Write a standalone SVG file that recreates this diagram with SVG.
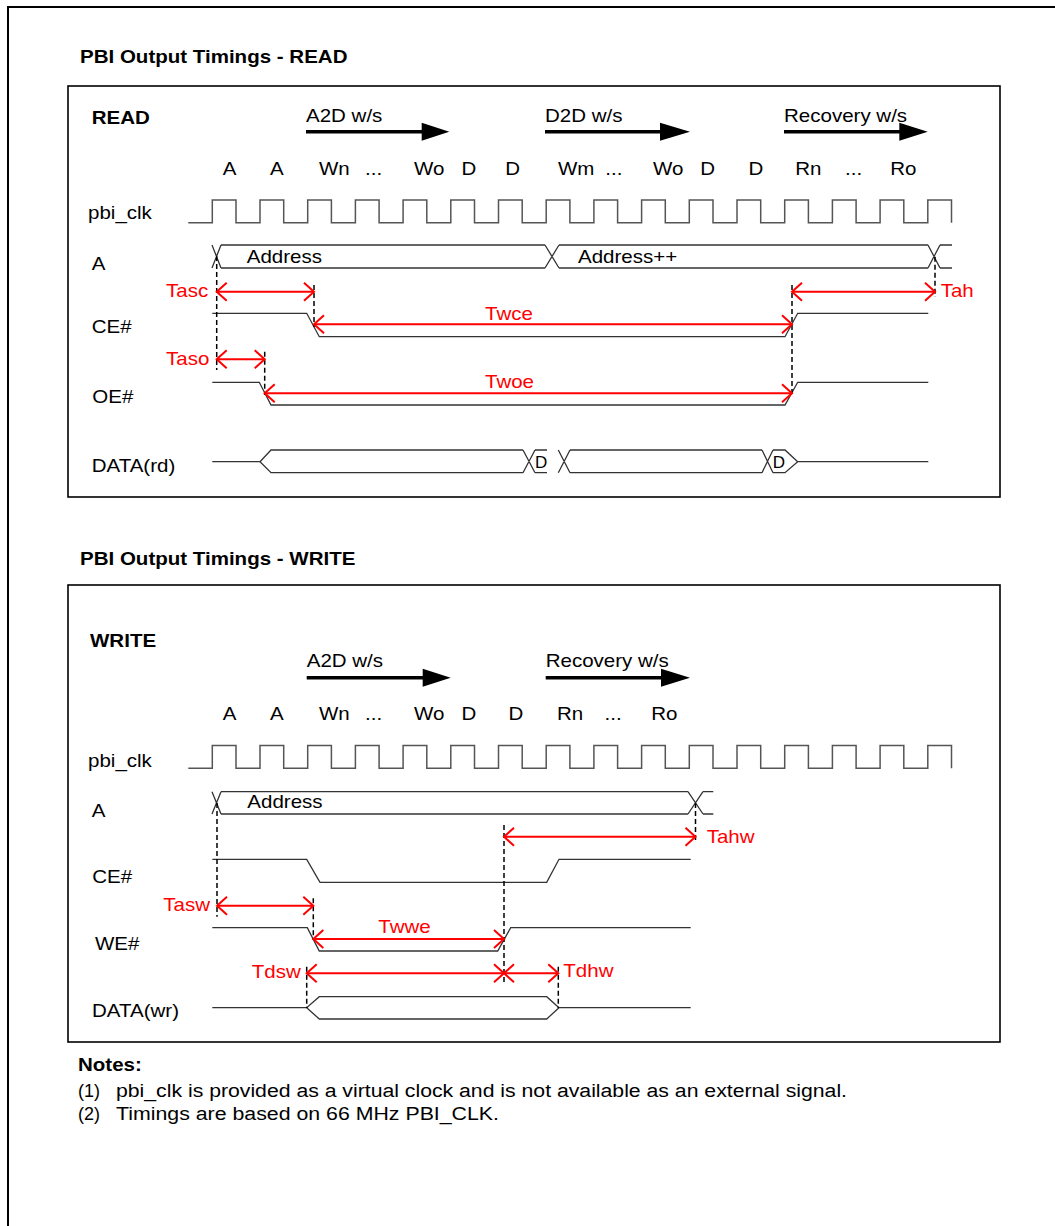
<svg xmlns="http://www.w3.org/2000/svg" width="1055" height="1226" viewBox="0 0 1055 1226">
<style>
text{font-family:"Liberation Sans",Arial,Helvetica,sans-serif;font-size:18px;fill:#000}
.b{font-weight:bold}
.r{fill:#f00}
.sig{fill:none;stroke:#333;stroke-width:1.3}
.clk{fill:none;stroke:#555;stroke-width:1.5}
.dash{fill:none;stroke:#000;stroke-width:1.5;stroke-dasharray:5 3}
.dim{fill:none;stroke:#f00;stroke-width:2;marker-start:url(#ch);marker-end:url(#ch)}
.big{stroke:#000;stroke-width:3.5}
.box{fill:none;stroke:#000;stroke-width:1.6}
</style>
<defs>
<marker id="ch" viewBox="0 0 10 18" refX="10" refY="9" markerWidth="10" markerHeight="18" markerUnits="userSpaceOnUse" orient="auto-start-reverse" overflow="visible">
<path d="M0,0 L10,9 L0,18" fill="none" stroke="#f00" stroke-width="2"/>
</marker>
<path id="clock" class="clk" d="M188.3 222.7 H212.3 V200 H236 V222.7 H260 V200 H283.7 V222.7 H307.7 V200 H331.4 V222.7 H355.4 V200 H379.1 V222.7 H403.1 V200 H426.8 V222.7 H450.8 V200 H474.5 V222.7 H498.5 V200 H522.2 V222.7 H546.2 V200 H569.9 V222.7 H593.9 V200 H617.6 V222.7 H641.6 V200 H665.3 V222.7 H689.3 V200 H713 V222.7 H737 V200 H760.7 V222.7 H784.7 V200 H808.4 V222.7 H832.4 V200 H856.1 V222.7 H880.1 V200 H903.8 V222.7 H927.8 V200 H951.5 V222.7"/>
</defs>
<rect width="1055" height="1226" fill="#fff"/>
<rect x="8" y="7" width="1060" height="1240" fill="none" stroke="#000" stroke-width="2"/>

<!-- READ section -->
<g id="read-section">
<text class="b" transform="matrix(1.14 0 0 1 80 63.3)">PBI Output Timings - READ</text>
<rect id="read-box" class="box" x="68" y="86" width="932" height="411"/>
<text class="b" transform="matrix(1.14 0 0 1 91.7 124)">READ</text>
<g id="read-phases">
<text transform="matrix(1.14 0 0 1 306 122)">A2D w/s</text>
<line class="big" x1="306" y1="131.7" x2="423" y2="131.7"/>
<polygon points="421.7,122.7 449.3,131.7 421.7,140.7"/>
<text transform="matrix(1.14 0 0 1 545 122)">D2D w/s</text>
<line class="big" x1="545" y1="131.7" x2="661" y2="131.7"/>
<polygon points="660,122.7 690,131.7 660,140.7"/>
<text transform="matrix(1.14 0 0 1 784 122)">Recovery w/s</text>
<line class="big" x1="784" y1="131.7" x2="900" y2="131.7"/>
<polygon points="899.3,122.7 927.7,131.7 899.3,140.7"/>
</g>
<g id="read-cycles">
<text transform="matrix(1.14 0 0 1 222.7 175)">A</text>
<text transform="matrix(1.14 0 0 1 270 175)">A</text>
<text transform="matrix(1.14 0 0 1 319 175)">Wn</text>
<text transform="matrix(1.14 0 0 1 365 175)">...</text>
<text transform="matrix(1.14 0 0 1 414 175)">Wo</text>
<text transform="matrix(1.14 0 0 1 461.5 175)">D</text>
<text transform="matrix(1.14 0 0 1 505.2 175)">D</text>
<text transform="matrix(1.14 0 0 1 558 175)">Wm</text>
<text transform="matrix(1.14 0 0 1 605.3 175)">...</text>
<text transform="matrix(1.14 0 0 1 653 175)">Wo</text>
<text transform="matrix(1.14 0 0 1 700.2 175)">D</text>
<text transform="matrix(1.14 0 0 1 748.5 175)">D</text>
<text transform="matrix(1.14 0 0 1 795.2 175)">Rn</text>
<text transform="matrix(1.14 0 0 1 845 175)">...</text>
<text transform="matrix(1.14 0 0 1 890.2 175)">Ro</text>
</g>
<g id="read-pbi_clk">
<text transform="matrix(1.14 0 0 1 88 219.3)">pbi_clk</text>
<use href="#clock"/>
</g>
<g id="read-A">
<text transform="matrix(1.14 0 0 1 91.7 270)">A</text>
<path class="sig" d="M212 245 L221 268 M212 268 L221 245 M221 245 H545 M221 268 H545 M545 245 L559 268 M545 268 L559 245 M559 245 H928 M559 268 H928 M928 245 L940 268 M928 268 L940 245 M940 245 H952 M940 268 H952"/>
<text transform="matrix(1.14 0 0 1 246.7 263)">Address</text>
<text transform="matrix(1.14 0 0 1 578 263)">Address++</text>
</g>
<g id="read-CE">
<text transform="matrix(1.14 0 0 1 91.7 333.3)">CE#</text>
<path class="sig" d="M212.3 313.3 H306.7 L319.3 336.7 H785 L797.7 313.3 H928.3"/>
</g>
<g id="read-OE">
<text transform="matrix(1.14 0 0 1 92.3 402.7)">OE#</text>
<path class="sig" d="M212.3 382.3 H259.3 L271 405 H785 L797.7 382.3 H928.3"/>
</g>
<g id="read-DATA">
<text transform="matrix(1.14 0 0 1 91.7 471.7)">DATA(rd)</text>
<path class="sig" d="M212.3 461.7 H260 M523 450 H271 L260 461.7 L271 472.7 H523 M523 450 L535 472.7 M523 472.7 L535 450 M535 450 H547 M535 472.7 H547 M558.3 450 L570 472.7 M558.3 472.7 L570 450 M570 450 H762 M570 472.7 H762 M762 450 L773 472.7 M762 472.7 L773 450 M773 450 H785 L797.7 461.7 L785 472.7 H773 M797.7 461.7 H928.3"/>
<text style="font-size:17px" x="535" y="467.5">D</text>
<text style="font-size:17px" x="772.7" y="467.5">D</text>
</g>
</g>

<!-- WRITE section -->
<g id="write-section">
<text class="b" transform="matrix(1.14 0 0 1 80 565)">PBI Output Timings - WRITE</text>
<rect id="write-box" class="box" x="68" y="585" width="932" height="457"/>
<text class="b" transform="matrix(1.14 0 0 1 90 646.7)">WRITE</text>
<g id="write-phases">
<text transform="matrix(1.14 0 0 1 306.7 666.7)">A2D w/s</text>
<line class="big" x1="306.7" y1="677.7" x2="424" y2="677.7"/>
<polygon points="422.7,668.7 450.7,677.7 422.7,686.7"/>
<text transform="matrix(1.14 0 0 1 545.7 666.7)">Recovery w/s</text>
<line class="big" x1="545.7" y1="677.7" x2="662" y2="677.7"/>
<polygon points="661,668.7 690,677.7 661,686.7"/>
</g>
<g id="write-cycles">
<text transform="matrix(1.14 0 0 1 222.7 720)">A</text>
<text transform="matrix(1.14 0 0 1 270 720)">A</text>
<text transform="matrix(1.14 0 0 1 319 720)">Wn</text>
<text transform="matrix(1.14 0 0 1 365 720)">...</text>
<text transform="matrix(1.14 0 0 1 414 720)">Wo</text>
<text transform="matrix(1.14 0 0 1 461.5 720)">D</text>
<text transform="matrix(1.14 0 0 1 508.5 720)">D</text>
<text transform="matrix(1.14 0 0 1 557 720)">Rn</text>
<text transform="matrix(1.14 0 0 1 604.5 720)">...</text>
<text transform="matrix(1.14 0 0 1 651.2 720)">Ro</text>
</g>
<g id="write-pbi_clk">
<text transform="matrix(1.14 0 0 1 88 767)">pbi_clk</text>
<use href="#clock" transform="translate(0 545.6)"/>
</g>
<g id="write-A">
<text transform="matrix(1.14 0 0 1 91.7 816.7)">A</text>
<path class="sig" d="M212 791.7 L221 814 M212 814 L221 791.7 M221 791.7 H688 M221 814 H688 M688 791.7 L703 814 M688 814 L703 791.7 M703 791.7 H713.3 M703 814 H713.3"/>
<text transform="matrix(1.14 0 0 1 247.3 808.3)">Address</text>
</g>
<g id="write-CE">
<text transform="matrix(1.14 0 0 1 92.3 882.7)">CE#</text>
<path class="sig" d="M212.3 859.3 H306.7 L320 882.3 H546.7 L559 859.3 H690.7"/>
</g>
<g id="write-WE">
<text transform="matrix(1.14 0 0 1 95 950)">WE#</text>
<path class="sig" d="M212.3 927.7 H307.3 L319.3 951 H497.7 L510.7 927.7 H690.7"/>
</g>
<g id="write-DATA">
<text transform="matrix(1.14 0 0 1 92 1016.7)">DATA(wr)</text>
<path class="sig" d="M212.3 1007.7 H306.7 L319.3 996.7 H546.7 L559 1007.7 L546.7 1019 H319.3 L306.7 1007.7 M559 1007.7 H690.7"/>
</g>
</g>

<!-- timing connectors -->
<g id="connectors">
<line class="dash" x1="216.7" y1="256" x2="216.7" y2="370"/>
<line class="dash" x1="314" y1="285" x2="314" y2="327"/>
<line class="dash" x1="264.7" y1="351.7" x2="264.7" y2="395"/>
<line class="dash" x1="792" y1="285" x2="792" y2="395"/>
<line class="dash" x1="935" y1="256.7" x2="935" y2="297"/>
<line class="dim" x1="216.7" y1="291.7" x2="314" y2="291.7"/>
<line class="dim" x1="314" y1="324.3" x2="792" y2="324.3"/>
<line class="dim" x1="792" y1="291.7" x2="935" y2="291.7"/>
<line class="dim" x1="216.7" y1="359.3" x2="264.7" y2="359.3"/>
<line class="dim" x1="264.7" y1="393.3" x2="792" y2="393.3"/>

<line class="dash" x1="217" y1="803" x2="217" y2="916.7"/>
<line class="dash" x1="313.3" y1="898.3" x2="313.3" y2="940"/>
<line class="dash" x1="504" y1="825" x2="504" y2="983"/>
<line class="dash" x1="695.5" y1="803" x2="695.5" y2="843"/>
<line class="dash" x1="306.7" y1="966.7" x2="306.7" y2="1008"/>
<line class="dash" x1="558.3" y1="966.7" x2="558.3" y2="1008"/>
<line class="dim" x1="504" y1="836.7" x2="695.5" y2="836.7"/>
<line class="dim" x1="217" y1="905.7" x2="313.3" y2="905.7"/>
<line class="dim" x1="313.3" y1="939" x2="504" y2="939"/>
<line class="dim" x1="306.7" y1="973.3" x2="504" y2="973.3"/>
<line class="dim" x1="504" y1="973.3" x2="558.3" y2="973.3"/>
</g>

<g id="timing-labels">
<text class="r" transform="matrix(1.14 0 0 1 166 296.7)">Tasc</text>
<text class="r" transform="matrix(1.14 0 0 1 166 365)">Taso</text>
<text class="r" transform="matrix(1.14 0 0 1 485 320)">Twce</text>
<text class="r" transform="matrix(1.14 0 0 1 485 388.3)">Twoe</text>
<text class="r" transform="matrix(1.14 0 0 1 940.7 296.7)">Tah</text>
<text class="r" transform="matrix(1.14 0 0 1 706.7 842.7)">Tahw</text>
<text class="r" transform="matrix(1.14 0 0 1 163.3 910.7)">Tasw</text>
<text class="r" transform="matrix(1.14 0 0 1 378.3 933.3)">Twwe</text>
<text class="r" transform="matrix(1.14 0 0 1 251.7 978.3)">Tdsw</text>
<text class="r" transform="matrix(1.14 0 0 1 563.3 976.7)">Tdhw</text>
</g>

<g id="notes">
<text class="b" transform="matrix(1.14 0 0 1 78 1071)">Notes:</text>
<text x="78" y="1097">(1)</text>
<text x="116" y="1097" textLength="731" lengthAdjust="spacingAndGlyphs">pbi_clk is provided as a virtual clock and is not available as an external signal.</text>
<text x="78" y="1120">(2)</text>
<text x="116" y="1120" textLength="383" lengthAdjust="spacingAndGlyphs">Timings are based on 66 MHz PBI_CLK.</text>
</g>
</svg>
